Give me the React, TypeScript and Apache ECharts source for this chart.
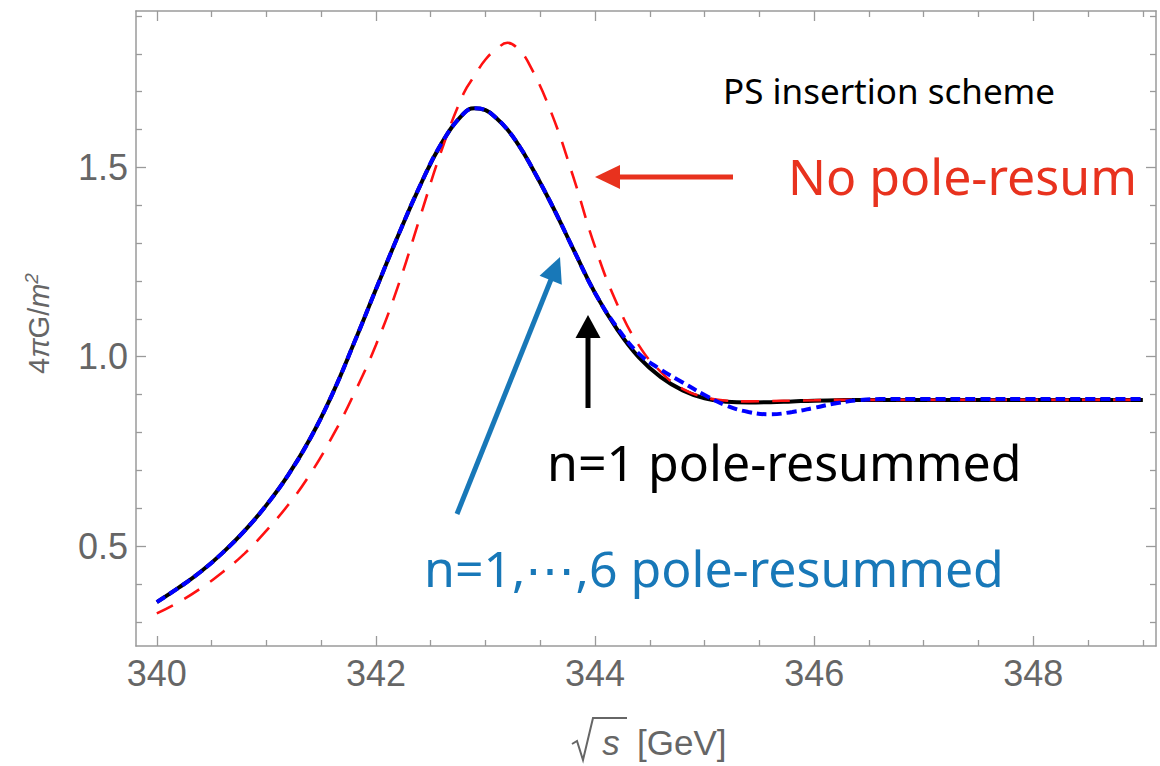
import React, { useEffect, useRef } from "react";
import * as echarts from "echarts";

// sqrt(s) sampling points [GeV]
const sqrtS = [
  340.0, 340.2, 340.4, 340.6, 340.8, 341.0, 341.2, 341.4, 341.6, 341.8,
  342.0, 342.2, 342.4, 342.6, 342.8, 342.9, 343.0, 343.1, 343.2, 343.3,
  343.4, 343.6, 343.8, 344.0, 344.2, 344.4, 344.6, 344.8, 345.0, 345.2,
  345.4, 345.6, 345.8, 346.0, 346.2, 346.4, 346.6, 347.0, 347.5, 348.0,
  348.5, 349.0,
];

// n=1 pole-resummed (black, solid)
const nOneResummed = [
  0.352, 0.390, 0.432, 0.482, 0.540, 0.608, 0.688, 0.784, 0.900, 1.036,
  1.178, 1.318, 1.450, 1.564, 1.642, 1.656, 1.651, 1.630, 1.600, 1.560,
  1.512, 1.404, 1.285, 1.168, 1.073, 0.998, 0.946, 0.911, 0.890, 0.881,
  0.879, 0.880, 0.882, 0.884, 0.885, 0.886, 0.886, 0.886, 0.886, 0.886,
  0.886, 0.886,
];

// n=1,...,6 pole-resummed (blue, dashed)
const nSixResummed = [
  0.352, 0.390, 0.432, 0.482, 0.540, 0.608, 0.688, 0.784, 0.900, 1.036,
  1.178, 1.318, 1.450, 1.564, 1.642, 1.656, 1.651, 1.630, 1.600, 1.560,
  1.512, 1.404, 1.285, 1.168, 1.078, 1.008, 0.966, 0.932, 0.899, 0.871,
  0.854, 0.848, 0.854, 0.865, 0.877, 0.885, 0.888, 0.888, 0.888, 0.888,
  0.888, 0.888,
];

// No pole resummation (red, dashed)
const noPoleResum = [
  0.322, 0.352, 0.388, 0.431, 0.480, 0.541, 0.609, 0.690, 0.788, 0.902,
  1.031, 1.185, 1.366, 1.546, 1.695, 1.742, 1.785, 1.812, 1.829, 1.812,
  1.772, 1.645, 1.476, 1.290, 1.140, 1.030, 0.960, 0.915, 0.893, 0.884,
  0.882, 0.883, 0.884, 0.885, 0.886, 0.886, 0.886, 0.886, 0.886, 0.886,
  0.886, 0.886,
];

const xMajorTicks = [340, 342, 344, 346, 348];
const xMinorTicks = [
  340.5, 341, 341.5, 342.5, 343, 343.5, 344.5, 345, 345.5, 346.5, 347, 347.5,
  348.5, 349,
];
const yMajorTicks = [0.5, 1.0, 1.5];
const yMinorTicks = [
  0.3, 0.4, 0.6, 0.7, 0.8, 0.9, 1.1, 1.2, 1.3, 1.4, 1.6, 1.7, 1.8, 1.9,
];

const X_MIN = 339.81;
const X_MAX = 349.12;
const Y_MIN = 0.236;
const Y_MAX = 1.913;

const FRAME = "#9a9a9a";
const LABEL = "#666666";
const RED = "#e8321e";
const BLUE = "#1878b8";

function xAxisDef(
  position: string,
  ticks: number[],
  len: number,
  withLine: boolean,
  withLabels: boolean
) {
  return {
    type: "value",
    position,
    min: X_MIN,
    max: X_MAX,
    splitLine: { show: false },
    axisLine: {
      show: withLine,
      onZero: false,
      lineStyle: { color: FRAME, width: 1.5 },
    },
    axisTick: {
      show: true,
      inside: true,
      length: len,
      customValues: ticks,
      lineStyle: { color: FRAME, width: 1.3 },
    },
    axisLabel: withLabels
      ? {
          show: true,
          customValues: ticks,
          margin: 9,
          color: LABEL,
          fontSize: 36,
          fontFamily: "Liberation Sans",
        }
      : { show: false },
  };
}

function yAxisDef(
  position: string,
  ticks: number[],
  len: number,
  withLine: boolean,
  withLabels: boolean
) {
  const base: any = {
    type: "value",
    position,
    min: Y_MIN,
    max: Y_MAX,
    splitLine: { show: false },
    axisLine: {
      show: withLine,
      onZero: false,
      lineStyle: { color: FRAME, width: 1.5 },
    },
    axisTick: {
      show: true,
      inside: true,
      length: len,
      customValues: ticks,
      lineStyle: { color: FRAME, width: 1.3 },
    },
    axisLabel: withLabels
      ? {
          show: true,
          customValues: ticks,
          margin: 8,
          color: LABEL,
          fontSize: 36,
          fontFamily: "Liberation Sans",
          formatter: (v: number) => v.toFixed(1),
        }
      : { show: false },
  };
  if (withLabels) {
    // 4 pi G / m^2
    base.name = "{n|4}{i|\u03c0}{n|G/}{i|m}{s|2}";
    base.nameLocation = "middle";
    base.nameRotate = 90;
    base.nameGap = 80;
    base.nameTextStyle = {
      color: LABEL,
      padding: [0, 0, 0, 10],
      rich: {
        n: {
          fontSize: 29,
          fontFamily: "Liberation Sans",
          color: LABEL,
          lineHeight: 34,
        },
        i: {
          fontSize: 29,
          fontStyle: "italic",
          fontFamily: "Liberation Sans",
          color: LABEL,
          lineHeight: 34,
        },
        s: {
          fontSize: 19,
          fontStyle: "italic",
          fontFamily: "Liberation Sans",
          color: LABEL,
          verticalAlign: "top",
          lineHeight: 18,
        },
      },
    };
  }
  return base;
}

function arrow(
  x1: number,
  y1: number,
  x2: number,
  y2: number,
  color: string,
  headLen: number,
  headHalf: number,
  width: number
) {
  const dx = x2 - x1;
  const dy = y2 - y1;
  const L = Math.hypot(dx, dy);
  const ux = dx / L;
  const uy = dy / L;
  const bx = x2 - ux * headLen;
  const by = y2 - uy * headLen;
  const px = -uy;
  const py = ux;
  return [
    {
      type: "line",
      shape: { x1, y1, x2: bx + ux * 2, y2: by + uy * 2 },
      style: { stroke: color, lineWidth: width },
      silent: true,
    },
    {
      type: "polygon",
      shape: {
        points: [
          [x2, y2],
          [bx + px * headHalf, by + py * headHalf],
          [bx - px * headHalf, by - py * headHalf],
        ],
      },
      style: { fill: color },
      silent: true,
    },
  ];
}

export default function App() {
  const ref = useRef<HTMLDivElement>(null);

  useEffect(() => {
    if (!ref.current) return;
    const chart = echarts.init(ref.current, null, { renderer: "svg" });

    const pairs = (ys: number[]) => sqrtS.map((x, i) => [x, ys[i]]);

    const annoFont = "Noto Sans";

    chart.setOption({
      animation: false,
      backgroundColor: "#ffffff",
      grid: {
        left: 136,
        right: 4,
        top: 11,
        bottom: 120,
        containLabel: false,
        outerBoundsMode: "none",
      },
      xAxis: [
        xAxisDef("bottom", xMajorTicks, 10, true, true),
        xAxisDef("bottom", xMinorTicks, 6, false, false),
        xAxisDef("top", xMajorTicks, 10, true, false),
        xAxisDef("top", xMinorTicks, 6, false, false),
      ],
      yAxis: [
        yAxisDef("left", yMajorTicks, 10, true, true),
        yAxisDef("left", yMinorTicks, 6, false, false),
        yAxisDef("right", yMajorTicks, 10, true, false),
        yAxisDef("right", yMinorTicks, 6, false, false),
      ],
      series: [
        {
          name: "n=1 pole-resummed",
          type: "line",
          xAxisIndex: 0,
          yAxisIndex: 0,
          data: pairs(nOneResummed),
          showSymbol: false,
          smooth: 0.45,
          lineStyle: { color: "#000000", width: 4 },
          z: 2,
        },
        {
          name: "No pole-resum",
          type: "line",
          xAxisIndex: 0,
          yAxisIndex: 0,
          data: pairs(noPoleResum),
          showSymbol: false,
          smooth: 0.45,
          lineStyle: { color: "#ff1111", width: 2.6, type: [18, 13] },
          z: 3,
        },
        {
          name: "n=1,...,6 pole-resummed",
          type: "line",
          xAxisIndex: 0,
          yAxisIndex: 0,
          data: pairs(nSixResummed),
          showSymbol: false,
          smooth: 0.45,
          lineStyle: { color: "#0000ff", width: 4, type: [10, 5] },
          z: 4,
        },
      ],
      graphic: [
        {
          type: "text",
          x: 723,
          y: 90,
          style: {
            text: "PS insertion scheme",
            fill: "#000000",
            font: `35px "${annoFont}"`,
            align: "left",
            verticalAlign: "middle",
          },
          silent: true,
        },
        {
          type: "text",
          x: 788,
          y: 176,
          style: {
            text: "No pole-resum",
            fill: RED,
            font: `50px "${annoFont}"`,
            align: "left",
            verticalAlign: "middle",
          },
          silent: true,
        },
        {
          type: "text",
          x: 547,
          y: 462,
          style: {
            text: "n=1 pole-resummed",
            fill: "#000000",
            font: `50px "${annoFont}"`,
            align: "left",
            verticalAlign: "middle",
          },
          silent: true,
        },
        {
          type: "text",
          x: 424,
          y: 568,
          style: {
            text: "n=1,\u22ef,6 pole-resummed",
            fill: BLUE,
            font: `50px "${annoFont}"`,
            align: "left",
            verticalAlign: "middle",
          },
          silent: true,
        },
        ...arrow(733, 177, 595, 177, RED, 25, 12, 5),
        ...arrow(457, 514, 560, 257, BLUE, 25, 12, 5),
        ...arrow(588, 408, 588, 315, "#000000", 23, 12.5, 5),
        // x-axis name: sqrt(s) [GeV]
        {
          type: "polyline",
          shape: {
            points: [
              [572, 744],
              [577, 741],
              [583, 760],
              [593, 718],
              [627, 718],
            ],
          },
          style: { stroke: LABEL, lineWidth: 2, fill: null },
          silent: true,
        },
        {
          type: "text",
          x: 611,
          y: 742,
          style: {
            text: "s",
            fill: LABEL,
            font: `italic 35px "Liberation Sans"`,
            align: "center",
            verticalAlign: "middle",
          },
          silent: true,
        },
        {
          type: "text",
          x: 637,
          y: 742,
          style: {
            text: "[GeV]",
            fill: LABEL,
            font: `35px "Liberation Sans"`,
            align: "left",
            verticalAlign: "middle",
          },
          silent: true,
        },
      ],
    });

    return () => {
      chart.dispose();
    };
  }, []);

  return (
    <div
      ref={ref}
      style={{ position: "fixed", left: 0, top: 0, width: 1160, height: 766 }}
    />
  );
}
